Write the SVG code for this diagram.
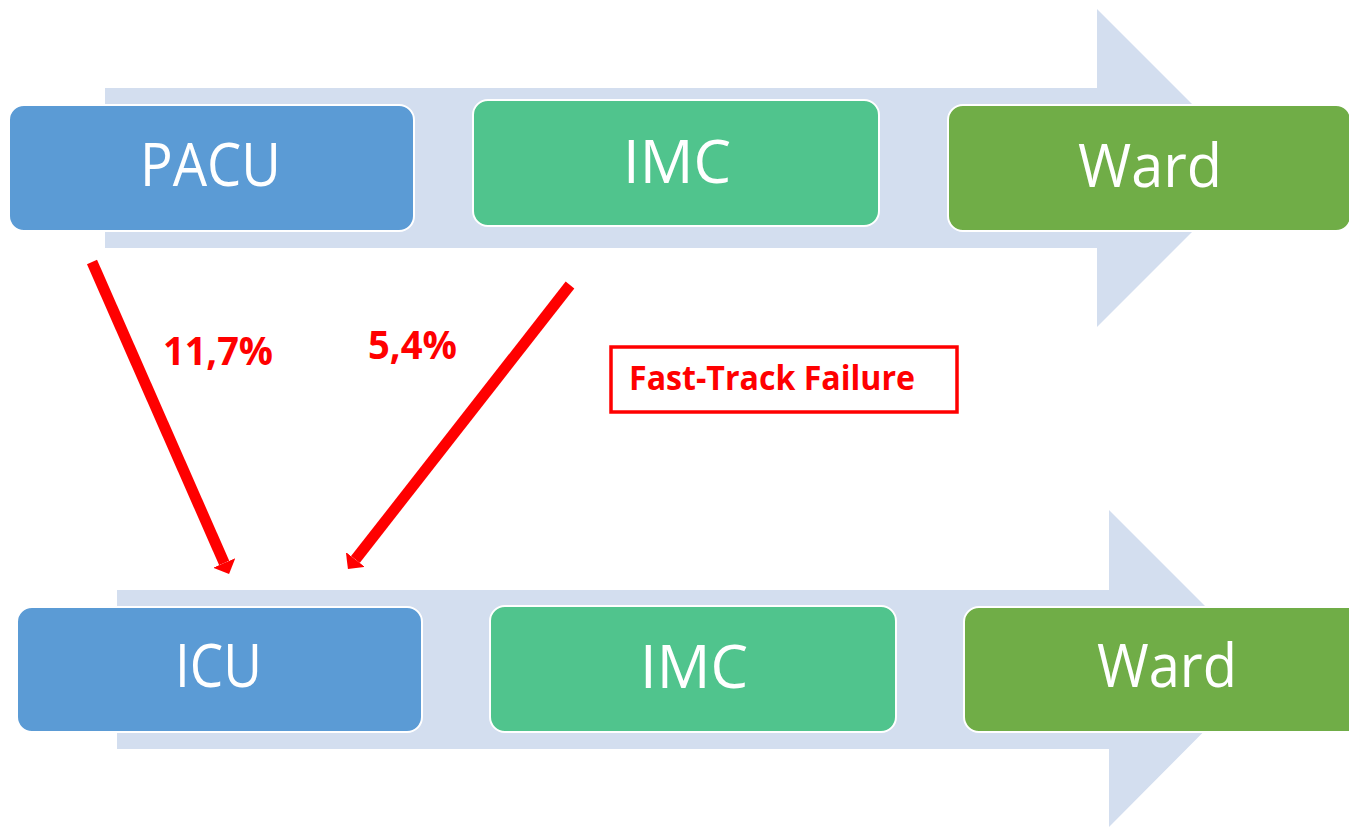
<svg xmlns="http://www.w3.org/2000/svg" width="1349" height="827" viewBox="0 0 1349 827">
  <style>
    .flow { fill: #D3DEEF; }
    .box { stroke: #FFFFFF; stroke-width: 2; }
    .blue { fill: #5B9BD5; }
    .teal { fill: #50C48D; }
    .green { fill: #70AD47; }
    .lbl { font-family: "Open Sans", "Noto Sans", sans-serif; font-size: 60px; fill: #FFFFFF; }
    .red { font-family: "Open Sans", "Noto Sans", sans-serif; font-weight: bold; fill: #FF0000; }
    .link { fill: none; stroke: #FF0000; stroke-width: 11; }
  </style>
  <defs>
    <marker id="head" viewBox="0 0 1.1 2.2" markerWidth="1.1" markerHeight="2.2" refX="0" refY="1.1" orient="auto" markerUnits="strokeWidth">
      <path d="M0,0 L1.1,1.1 L0,2.2 Z" fill="#FF0000"/>
    </marker>
  </defs>
  <rect width="1349" height="827" fill="#FFFFFF"/>

  <!-- background process arrows -->
  <g id="flow-top">
    <polygon class="flow" points="105,88 1097,88 1097,9 1256,168 1097,327 1097,248 105,248"/>
  </g>
  <g id="flow-bottom">
    <polygon class="flow" points="117,590 1109,590 1109,510 1267,668 1109,827 1109,749 117,749"/>
  </g>

  <!-- upper pathway -->
  <g id="pacu">
    <rect class="box blue" x="9" y="105" width="405" height="126" rx="15"/>
    <text class="lbl" x="140" y="186" textLength="141" lengthAdjust="spacingAndGlyphs">PACU</text>
  </g>
  <g id="imc-top">
    <rect class="box teal" x="473" y="100" width="406" height="126" rx="15"/>
    <text class="lbl" x="623" y="183" textLength="108" lengthAdjust="spacingAndGlyphs">IMC</text>
  </g>
  <g id="ward-top">
    <rect class="box green" x="948" y="105" width="403" height="126" rx="15"/>
    <text class="lbl" x="1078" y="187" textLength="144" lengthAdjust="spacingAndGlyphs">Ward</text>
  </g>

  <!-- lower pathway -->
  <g id="icu">
    <rect class="box blue" x="17" y="607" width="405" height="125" rx="15"/>
    <text class="lbl" x="175" y="687" textLength="87" lengthAdjust="spacingAndGlyphs">ICU</text>
  </g>
  <g id="imc-bottom">
    <rect class="box teal" x="490" y="606" width="406" height="126" rx="15"/>
    <text class="lbl" x="640" y="688" textLength="108" lengthAdjust="spacingAndGlyphs">IMC</text>
  </g>
  <g id="ward-bottom">
    <rect class="box green" x="964" y="607" width="420" height="125" rx="15"/>
    <text class="lbl" x="1097" y="687" textLength="140" lengthAdjust="spacingAndGlyphs">Ward</text>
  </g>

  <!-- escalation connectors -->
  <g id="connectors">
    <path class="link" d="M92,262 L224.2,563" marker-end="url(#head)"/>
    <path class="link" d="M570,285 L355.4,559.5" marker-end="url(#head)"/>
  </g>

  <g id="rates">
    <text class="red" x="163" y="365" font-size="40" textLength="110" lengthAdjust="spacingAndGlyphs">11,7%</text>
    <text class="red" x="368" y="359" font-size="40" textLength="89" lengthAdjust="spacingAndGlyphs">5,4%</text>
  </g>

  <g id="fast-track-failure">
    <rect x="611" y="347" width="346" height="65" fill="#FFFFFF" stroke="#FF0000" stroke-width="3.5"/>
    <text class="red" x="629" y="390" font-size="34" textLength="286" lengthAdjust="spacingAndGlyphs">Fast-Track Failure</text>
  </g>
</svg>
